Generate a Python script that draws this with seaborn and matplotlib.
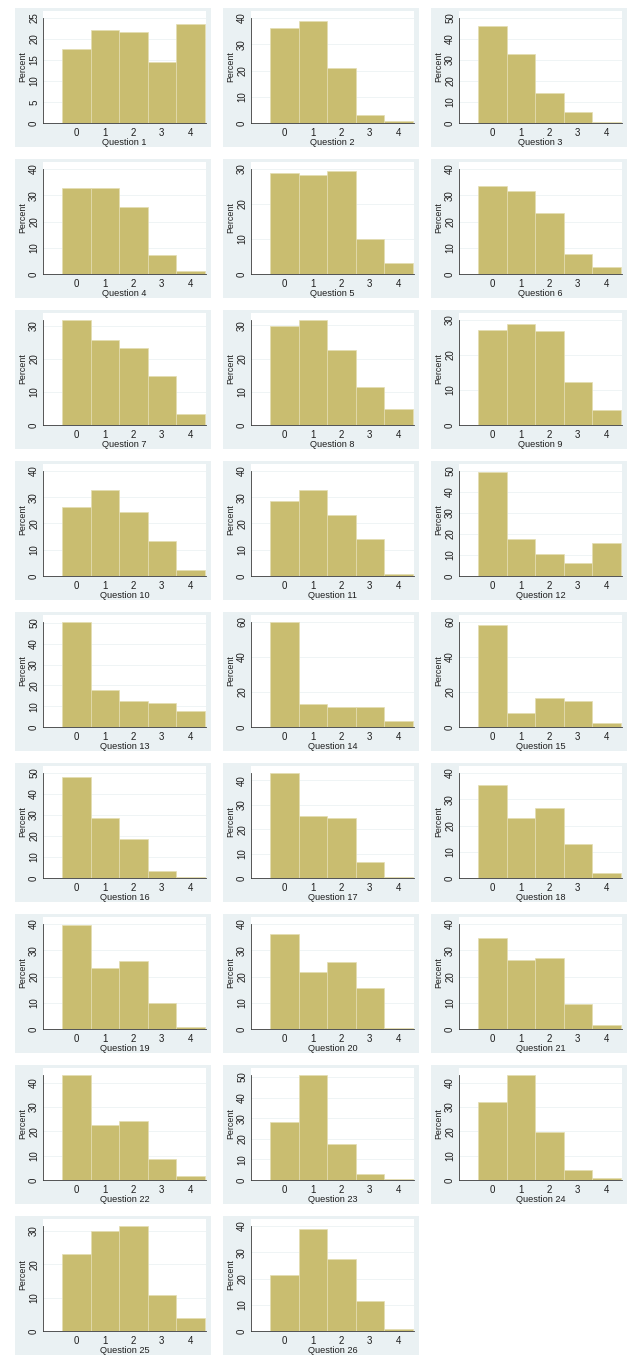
import numpy as np
import pandas as pd
import matplotlib
matplotlib.use("Agg")
import matplotlib.pyplot as plt
from matplotlib.patches import Rectangle
import seaborn as sns

sns.set_theme(style="white")
plt.rcParams['font.family'] = ['Liberation Sans Narrow', 'Liberation Sans', 'DejaVu Sans']

#%% data: percent of answers per level, one list per question
levels = [0, 1, 2, 3, 4]
q01 = [17.7, 22.1, 21.7, 14.5, 23.6]
q02 = [36.2, 38.8, 20.8, 3.0, 0.6]
q03 = [46.1, 33.0, 14.4, 5.4, 0.3]
q04 = [32.9, 32.6, 25.5, 7.1, 1.1]
q05 = [29.0, 28.2, 29.3, 9.9, 3.1]
q06 = [33.7, 31.8, 23.3, 7.7, 2.6]
q07 = [31.8, 25.8, 23.4, 14.9, 3.2]
q08 = [29.7, 31.6, 22.5, 11.3, 4.7]
q09 = [27.2, 29.0, 26.8, 12.3, 4.3]
q10 = [26.3, 32.9, 24.3, 13.4, 2.4]
q11 = [28.4, 32.7, 23.4, 14.2, 0.6]
q12 = [49.6, 17.5, 10.7, 6.0, 15.8]
q13 = [50.5, 17.8, 12.3, 11.5, 7.7]
q14 = [59.8, 13.4, 11.2, 11.2, 3.4]
q15 = [58.3, 8.0, 16.3, 14.8, 2.4]
q16 = [48.0, 28.8, 18.8, 3.3, 0.3]
q17 = [43.0, 25.2, 24.5, 6.7, 0.4]
q18 = [35.6, 22.8, 26.5, 13.0, 1.9]
q19 = [39.5, 23.3, 26.0, 9.8, 0.6]
q20 = [36.2, 21.7, 25.6, 15.6, 0.3]
q21 = [34.7, 26.3, 27.0, 9.6, 1.6]
q22 = [43.2, 22.5, 24.1, 8.6, 1.6]
q23 = [28.3, 51.0, 17.3, 2.7, 0.4]
q24 = [32.0, 43.2, 19.6, 4.3, 0.8]
q25 = [23.2, 30.0, 31.5, 10.8, 3.8]
q26 = [21.2, 39.0, 27.3, 11.3, 0.7]

# y tick labels: top tick and step of each panel
ytick_top = [25, 40, 50, 40, 30, 40, 30, 30, 30, 40, 40, 50, 50,
             60, 60, 50, 40, 40, 40, 40, 40, 40, 50, 40, 30, 40]
ytick_step = [5, 10, 10, 10, 10, 10, 10, 10, 10, 10, 10, 10, 10,
              20, 20, 10, 10, 10, 10, 10, 10, 10, 10, 10, 10, 10]

series = [q01, q02, q03, q04, q05, q06, q07, q08, q09, q10, q11, q12, q13,
          q14, q15, q16, q17, q18, q19, q20, q21, q22, q23, q24, q25, q26]

#%% layout (pixels)
W, H = 629, 1359
fig = plt.figure(figsize=(W / 100, H / 100), dpi=100)
fig.patch.set_facecolor('white')

panel_bg = '#eaf1f3'
bar_col = '#c9bd70'
axis_col = '#3a3a3a'
txt_col = '#1e1e1e'

col_left = [15, 223, 431]
panel_w, panel_h = 196, 139
row_pitch = 151.0

for i, vals in enumerate(series):
    r, c = divmod(i, 3)
    px = col_left[c]
    py = 8 + row_pitch * r
    # light blue graph region
    fig.add_artist(Rectangle((px / W, 1 - (py + panel_h) / H), panel_w / W, panel_h / H,
                             transform=fig.transFigure, facecolor=panel_bg,
                             edgecolor='none', zorder=0))
    ax_l = px + 28
    ax_r = px + 191
    ax_t = py + 3
    ax_b = py + 115
    ax = fig.add_axes([ax_l / W, 1 - ax_b / H, (ax_r - ax_l) / W, (ax_b - ax_t) / H])
    ax.set_facecolor('white')

    df = pd.DataFrame({'level': levels, 'pct': vals})
    sns.histplot(data=df, x='level', weights='pct', discrete=True, stat='count',
                 color=bar_col, edgecolor='#e4ddb2', linewidth=0.5, alpha=1,
                 ax=ax, zorder=2)

    top = max(ytick_top[i], max(vals))
    ax.set_ylim(0, top * (1 + 7 / 105))
    ax.set_xlim(-1.17, 4.55)
    yt = np.arange(0, ytick_top[i] + 0.1, ytick_step[i])
    ax.set_yticks(yt)
    ax.set_yticklabels([str(int(v)) for v in yt], rotation=90, va='center')
    ax.set_xticks(levels)
    ax.set_xticklabels([str(v) for v in levels])
    for y in yt[1:]:
        ax.axhline(y, color='#edf2f4', lw=0.6, zorder=1)

    for s in ['top', 'right']:
        ax.spines[s].set_visible(False)
    ax.spines['left'].set_bounds(0, top)
    for s in ['left', 'bottom']:
        ax.spines[s].set_color(axis_col)
        ax.spines[s].set_linewidth(0.6)
    ax.tick_params(axis='both', which='both', direction='out', length=2.2, width=0.5,
                   color=axis_col, labelsize=7, labelcolor=txt_col, pad=1.2)
    ax.tick_params(axis='y', pad=0.6)
    ax.set_ylabel('Percent', fontsize=6.4, color=txt_col, labelpad=1.0)
    ax.set_xlabel(f'Question {i + 1}', fontsize=6.6, color=txt_col, labelpad=0.2)

fig.savefig('out.png', dpi=100, facecolor='white')
